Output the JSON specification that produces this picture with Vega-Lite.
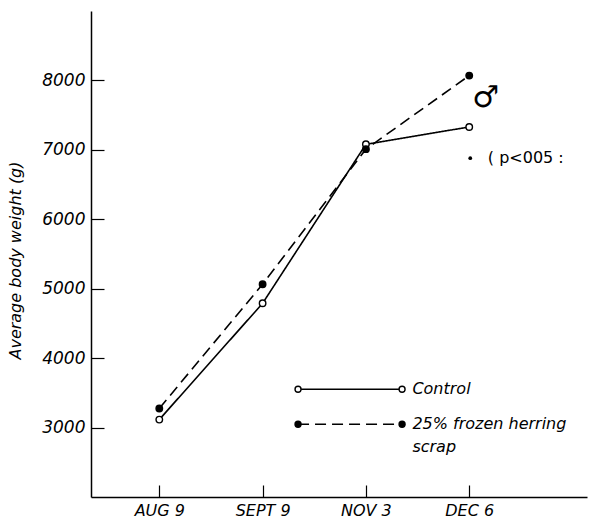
{
  "$schema": "https://vega.github.io/schema/vega-lite/v6.json",
  "width": 496,
  "height": 486,
  "autosize": "none",
  "padding": {"left": 91, "top": 11, "right": 2, "bottom": 23},
  "background": "white",
  "config": {
    "view": {"stroke": null},
    "axis": {
      "domainColor": "black", "domainWidth": 1.5, "tickColor": "black", "tickWidth": 1.2,
      "grid": false, "labelFont": "DejaVu Sans", "labelFontStyle": "italic", "labelFontSize": 16,
      "labelColor": "black", "titleFont": "DejaVu Sans", "titleFontStyle": "italic",
      "titleFontWeight": "normal", "titleFontSize": 16, "titleColor": "black"
    }
  },
  "datasets": {
    "main": [
      {"series": "Control", "date": "AUG 9", "x": 1, "weight": 3115},
      {"series": "Control", "date": "SEPT 9", "x": 2, "weight": 4790},
      {"series": "Control", "date": "NOV 3", "x": 3, "weight": 7080},
      {"series": "Control", "date": "DEC 6", "x": 4, "weight": 7330},
      {"series": "Herring", "date": "AUG 9", "x": 1, "weight": 3275},
      {"series": "Herring", "date": "SEPT 9", "x": 2, "weight": 5065},
      {"series": "Herring", "date": "NOV 3", "x": 3, "weight": 7010},
      {"series": "Herring", "date": "DEC 6", "x": 4, "weight": 8070}
    ],
    "legend": [
      {"series": "Control", "x": 2.343, "weight": 3553},
      {"series": "Control", "x": 3.35, "weight": 3553},
      {"series": "Herring", "x": 2.343, "weight": 3048},
      {"series": "Herring", "x": 3.35, "weight": 3048}
    ],
    "legendText": [
      {"label": "Control", "x": 3.45, "weight": 3553},
      {"label": "25% frozen herring", "x": 3.45, "weight": 3048},
      {"label": "scrap", "x": 3.45, "weight": 2720}
    ],
    "notes": [
      {"label": "♂", "x": 4.03, "weight": 7740, "size": 30},
      {"label": "( p<005 :", "x": 4.18, "weight": 6880, "size": 16}
    ],
    "dots": [
      {"x": 4.01, "weight": 6880}
    ]
  },
  "encoding": {
    "x": {
      "field": "x", "type": "quantitative",
      "scale": {"domain": [0.339, 5.14], "nice": false, "zero": false},
      "axis": {
        "title": null, "values": [1, 2, 3, 4], "tickSize": -12, "labelPadding": 30, "labelFontSize": 16,
        "labelBaseline": "alphabetic",
        "labelExpr": "['', 'AUG 9', 'SEPT 9', 'NOV 3', 'DEC 6'][datum.value]"
      }
    },
    "y": {
      "field": "weight", "type": "quantitative",
      "scale": {"domain": [2000, 9000], "nice": false, "zero": false},
      "axis": {
        "title": "Average body weight (g)", "values": [3000, 4000, 5000, 6000, 7000, 8000],
        "tickSize": -13, "labelPadding": 19, "labelFontSize": 17, "format": "d", "titleX": -68, "titleY": 249
      }
    }
  },
  "layer": [
    {
      "data": {"name": "main"},
      "mark": {"type": "line", "color": "black", "strokeWidth": 1.6},
      "encoding": {
        "detail": {"field": "series"},
        "strokeDash": {"field": "series", "type": "nominal", "legend": null,
          "scale": {"domain": ["Control", "Herring"], "range": [[1, 0], [11, 6]]}}
      }
    },
    {
      "data": {"name": "legend"},
      "mark": {"type": "line", "color": "black", "strokeWidth": 1.4},
      "encoding": {
        "detail": {"field": "series"},
        "strokeDash": {"field": "series", "type": "nominal", "legend": null,
          "scale": {"domain": ["Control", "Herring"], "range": [[1, 0], [13, 7]]}}
      }
    },
    {
      "data": {"name": "main"},
      "mark": {"type": "point", "shape": "circle", "size": 42, "stroke": "black", "strokeWidth": 1.4, "opacity": 1},
      "encoding": {
        "fill": {"field": "series", "type": "nominal", "legend": null,
          "scale": {"domain": ["Control", "Herring"], "range": ["white", "black"]}}
      }
    },
    {
      "data": {"name": "legend"},
      "mark": {"type": "point", "shape": "circle", "size": 36, "stroke": "black", "strokeWidth": 1.4, "opacity": 1},
      "encoding": {
        "fill": {"field": "series", "type": "nominal", "legend": null,
          "scale": {"domain": ["Control", "Herring"], "range": ["white", "black"]}}
      }
    },
    {
      "data": {"name": "legendText"},
      "mark": {"type": "text", "align": "left", "baseline": "middle", "font": "DejaVu Sans", "fontStyle": "italic", "fontSize": 16, "color": "black"},
      "encoding": {"text": {"field": "label"}}
    },
    {
      "data": {"name": "notes"},
      "mark": {"type": "text", "align": "left", "baseline": "middle", "font": "DejaVu Sans", "color": "black"},
      "encoding": {"text": {"field": "label"}, "size": {"field": "size", "type": "quantitative", "scale": null}}
    },
    {
      "data": {"name": "dots"},
      "mark": {"type": "point", "shape": "circle", "size": 14, "filled": true, "color": "black", "opacity": 1}
    }
  ]
}
